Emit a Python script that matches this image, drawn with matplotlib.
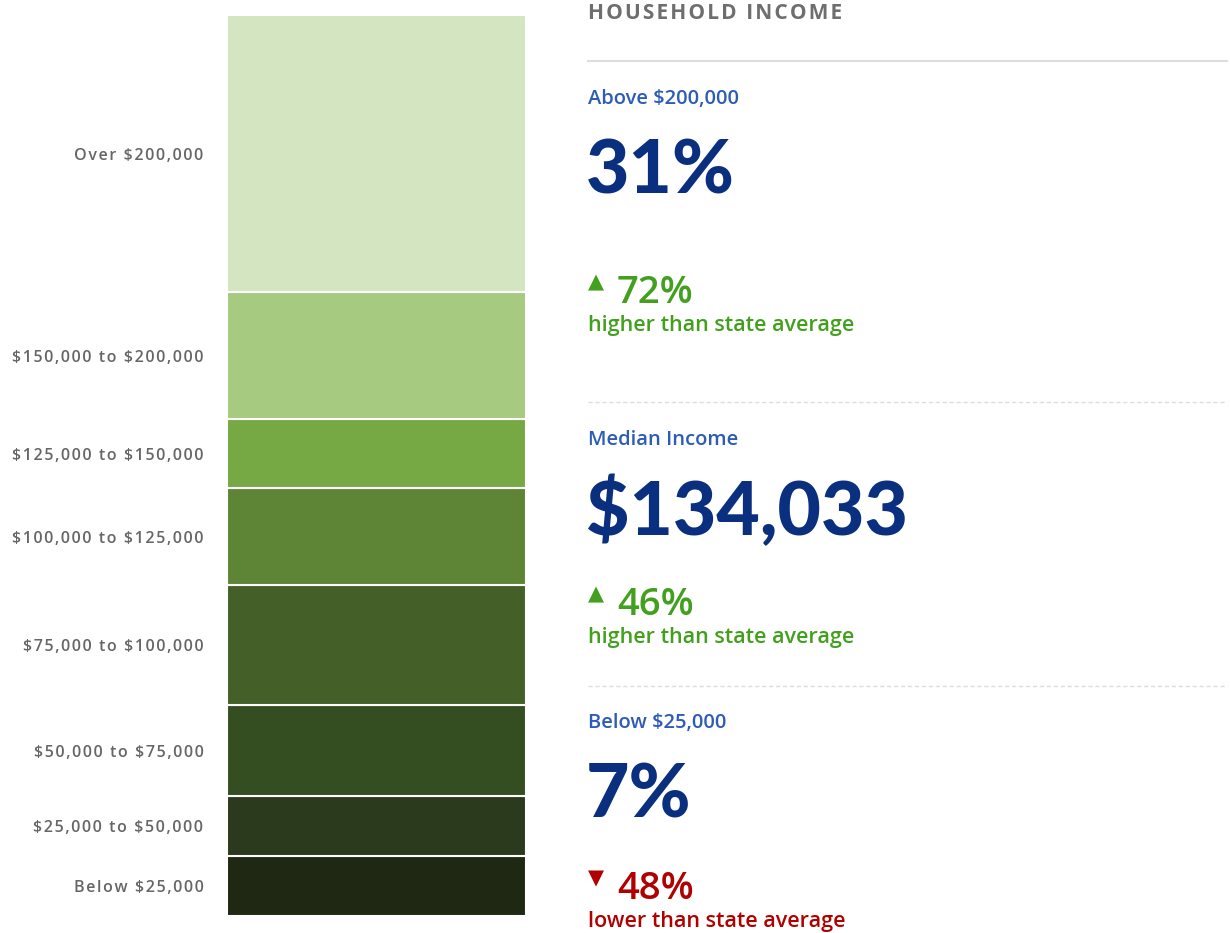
"""
Household income breakdown: one stacked column with the
headline figures written beside it.
"""

import matplotlib
matplotlib.use("Agg")
import matplotlib.pyplot as plt
import numpy as np

# income brackets, bottom to top, and their share of households (%)
brackets = ["Below $25,000", "$25,000 to $50,000", "$50,000 to $75,000",
            "$75,000 to $100,000", "$100,000 to $125,000", "$125,000 to $150,000",
            "$150,000 to $200,000", "Over $200,000"]
shares = [6.7, 6.6, 10.1, 13.4, 10.7, 7.7, 14.1, 30.8]
colors = ["#1e2812", "#2b3a1d", "#354e21", "#445f27",
          "#5d8535", "#76a844", "#a6ca80", "#d3e6c1"]

# headline stats on the right
stat_titles = ["Above $200,000", "Median Income", "Below $25,000"]
stat_values = ["31%", "$134,033", "7%"]
stat_changes = ["72%", "46%", "48%"]
stat_direction = ["up", "up", "down"]

W, H = 1230, 933
NAVY = "#0a2f7e"
BLUE = "#2d5cb8"
GREEN = "#43a01e"
RED = "#b00000"
GREY = "#666666"

plt.rcParams["font.family"] = ["Open Sans", "DejaVu Sans"]
plt.rcParams["text.parse_math"] = False

fig = plt.figure(figsize=(W / 100, H / 100), dpi=100)


def fx(px):
    return px / W


def fy(py):
    return 1 - py / H


def spaced(s):
    # poor man's letter spacing
    return "\u200a".join(s)


# --- the stacked column ---
ax = fig.add_axes([fx(227), fy(916), fx(299), (916 - 15) / H])
bottoms = np.concatenate([[0], np.cumsum(shares)[:-1]])
ax.bar(0, shares, bottom=bottoms, width=1.0, color=colors,
       edgecolor="white", linewidth=1.5)
ax.set_xlim(-0.5, 0.5)
ax.set_ylim(0, sum(shares))
ax.set_yticks(bottoms + np.array(shares) / 2)
ax.set_yticklabels([spaced(b) for b in brackets], fontsize=11.5, color=GREY,
                   fontweight="semibold")
ax.tick_params(axis="y", length=0, pad=17)
ax.set_xticks([])
for s in ax.spines.values():
    s.set_visible(False)

# --- right-hand panel ---
x0 = fx(588)
fig.text(x0, fy(19), spaced("HOUSEHOLD INCOME"), fontsize=15, color="#6e6e6e",
         fontweight="bold", va="baseline")
fig.add_artist(plt.Line2D([x0, fx(1227)], [fy(61), fy(61)],
                          color="#dddddd", linewidth=1.5))

# baselines (px from top) for title, big value, change, caption of each block
baselines = [(104, 193, 303, 331), (445, 535, 615, 643), (728, 817, 899, 927)]
for i, (yt, yv, yc, yl) in enumerate(baselines):
    fig.text(x0, fy(yt), stat_titles[i], fontsize=14.5, color=BLUE,
             fontweight="semibold", va="baseline")
    fig.text(x0 - fx(2), fy(yv), stat_values[i], fontsize=54, color=NAVY,
             fontweight="black", va="baseline", family=["Lato", "DejaVu Sans"])
    col = GREEN if stat_direction[i] == "up" else RED
    arrow = "▲" if stat_direction[i] == "up" else "▼"
    fig.text(x0, fy(yc - 15), arrow, fontsize=15, color=col,
             va="baseline", family="DejaVu Sans")
    fig.text(fx(617), fy(yc), stat_changes[i], fontsize=27.5, color=col,
             fontweight="semibold", va="baseline")
    word = "higher" if stat_direction[i] == "up" else "lower"
    fig.text(x0, fy(yl), f"{word} than state average", fontsize=15.5,
             color=col, fontweight="semibold", va="baseline")

for y in [402, 686]:
    fig.add_artist(plt.Line2D([x0, fx(1227)], [fy(y), fy(y)], color="#dddddd",
                              linewidth=1, linestyle=(0, (3, 2))))

fig.savefig("out.png", dpi=100, facecolor="white")
